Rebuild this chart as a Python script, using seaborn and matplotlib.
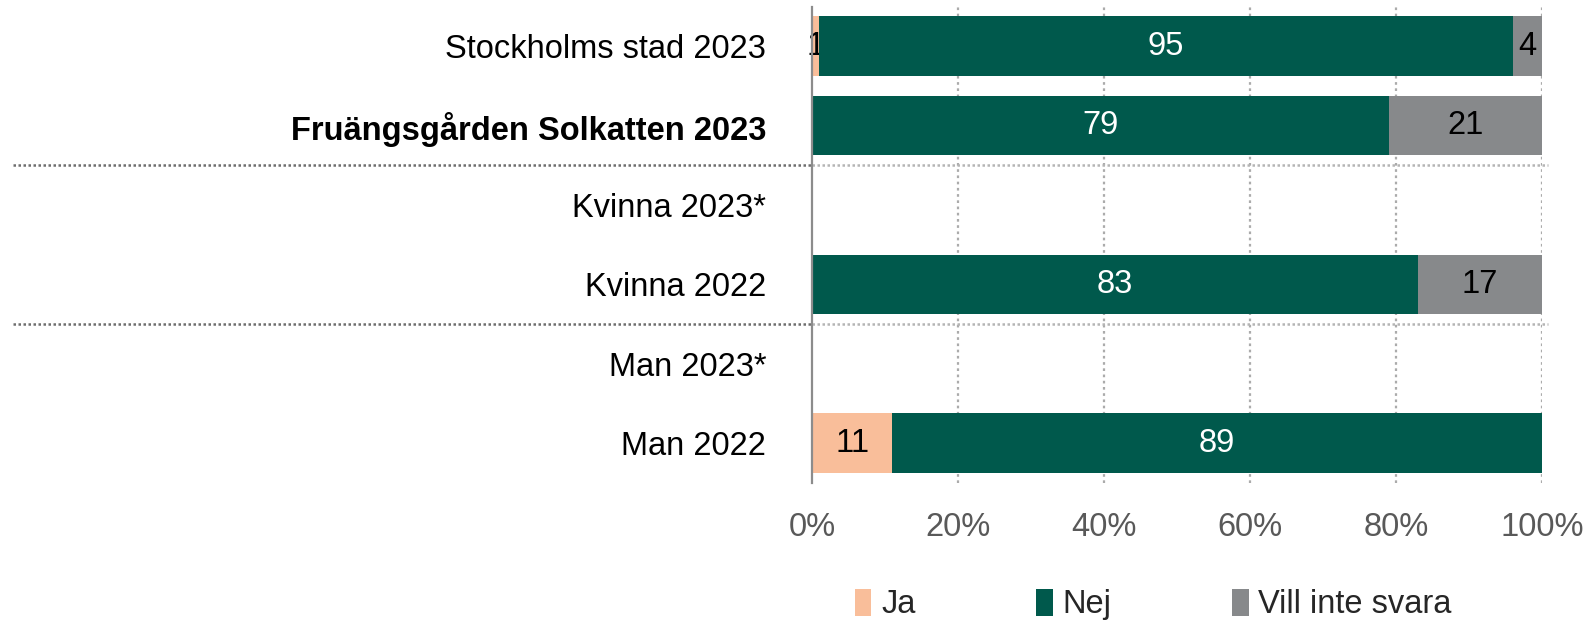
import numpy as np
import pandas as pd
import matplotlib
matplotlib.use("Agg")
import matplotlib.pyplot as plt
from matplotlib.transforms import blended_transform_factory
from matplotlib.patches import Patch
import seaborn as sns

# Survey groups (top to bottom) and answer shares in percent
categories = ["Stockholms stad 2023", "Fruängsgården Solkatten 2023", "Kvinna 2023*",
              "Kvinna 2022", "Man 2023*", "Man 2022"]
ja = [1, 0, np.nan, 0, np.nan, 11]
nej = [95, 79, np.nan, 83, np.nan, 89]
vill_inte = [4, 21, np.nan, 17, np.nan, 0]
series_names = ["Ja", "Nej", "Vill inte svara"]
tick_values = [0, 20, 40, 60, 80, 100]
tick_labels = ["0%", "20%", "40%", "60%", "80%", "100%"]

colors = ["#F9BE9A", "#00594C", "#87898B"]
label_colors = ["black", "white", "black"]

sns.set_theme(style="white")
plt.rcParams["font.family"] = ["Liberation Sans", "DejaVu Sans"]
FS = 23.5

fig = plt.figure(figsize=(15.91, 6.2), dpi=100)
ax = fig.add_axes([0.5104, 0.221, 0.4588, 0.7685])

series = [ja, nej, vill_inte]
left = np.zeros(len(categories))
for name, vals, col, lcol in zip(series_names, series, colors, label_colors):
    vals = np.array(vals, dtype=float)
    valid = ~np.isnan(vals)
    df = pd.DataFrame({"group": categories, "value": vals})
    sns.barplot(data=df, x="value", y="group", order=categories, orient="y",
                color=col, saturation=1, width=0.75, linewidth=0,
                left=left[valid], errorbar=None, ax=ax, zorder=3)
    cont = ax.containers[-1]
    labels = ["" if v == 0 else f"{v:.0f}" for v in vals[valid]]
    ax.bar_label(cont, labels=labels, label_type="center", color=lcol, fontsize=FS)
    left = left + np.nan_to_num(vals)

ax.set_xlim(0, 100)
ax.set_ylim(len(categories) - 0.5, -0.5)
ax.set_xticks(tick_values)
ax.set_xticklabels(tick_labels, fontsize=FS, color="#595959")
ax.set_xlabel("")
ax.set_ylabel("")
ax.tick_params(axis="x", length=0, pad=21)
ax.tick_params(axis="y", length=0, pad=33, labelsize=FS, labelcolor="black")
for lab in ax.get_yticklabels():
    if lab.get_text().startswith("Fruängsgården"):
        lab.set_fontweight("bold")

# Vertical dotted gridlines
for t in tick_values[1:]:
    ax.axvline(t, color="#ABABAB", linestyle=(0, (1.2, 1.6)), linewidth=1.6, zorder=1)

for side in ["top", "right", "bottom"]:
    ax.spines[side].set_visible(False)
ax.spines["left"].set_color("#8C8C8C")
ax.spines["left"].set_linewidth(1.6)
ax.spines["left"].set_zorder(4)

# Group separators between the overall rows and the gender blocks
trans = blended_transform_factory(fig.transFigure, ax.transData)
for ysep in [1.5, 3.5]:
    ax.plot([0.008, 0.5104], [ysep, ysep], transform=trans, color="#6E6E6E",
            linestyle=(0, (1, 1)), linewidth=1.8, clip_on=False, zorder=2)
    ax.plot([0.5104, 0.973], [ysep, ysep], transform=trans, color="#B5B5B5",
            linestyle=(0, (1, 1)), linewidth=1.8, clip_on=False, zorder=2)

handles = [Patch(facecolor=c, edgecolor="none") for c in colors]
fig.legend(handles, series_names, loc="center", bbox_to_anchor=(0.725, 0.025),
           ncol=3, frameon=False, fontsize=FS, handlelength=0.5, handleheight=0.9,
           handletextpad=0.3, columnspacing=3.7)

fig.savefig("out.png", dpi=100)
